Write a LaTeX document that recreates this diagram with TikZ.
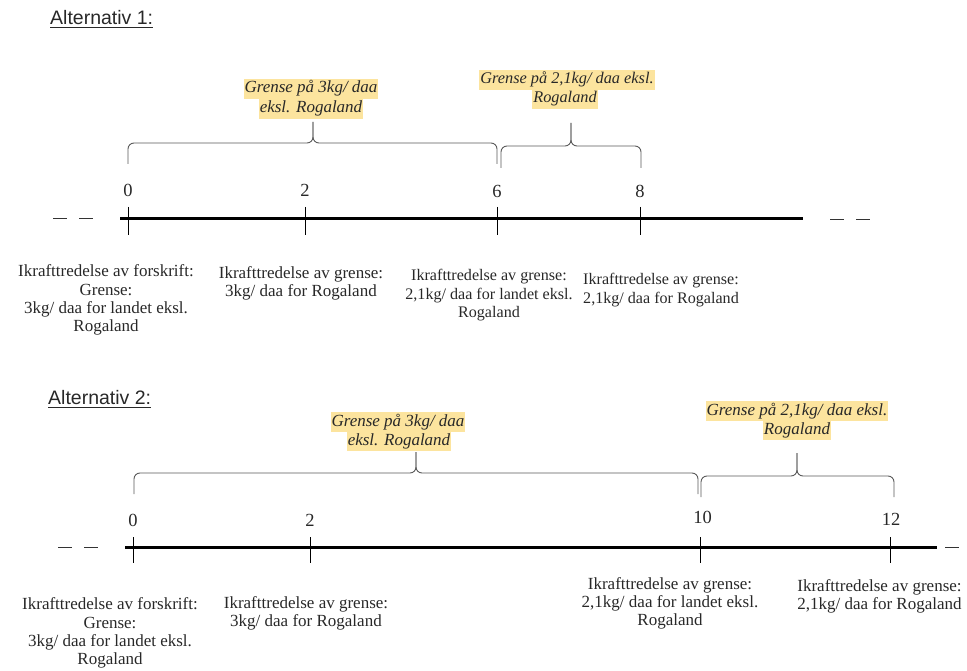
\documentclass[tikz,border=0pt]{standalone}
\usepackage{fontspec}
\setmainfont{Liberation Serif}
\newfontfamily\titlefont{Liberation Sans}
\definecolor{hlyellow}{RGB}{252,228,158}
\definecolor{txt}{RGB}{40,40,40}
\newcommand{\tlbrace}[6]{%
  \draw[brc] (#1,#4) -- (#1,#5) -- (#3,#5) -- (#3,#6);
  \draw[brc] (#2,#4) -- (#2,#5) -- (#3,#5) -- (#3,#6);
}
\begin{document}
\begin{tikzpicture}[x=1pt,y=-1pt,
  lbl/.style={font=\fontsize{17}{18.3}\selectfont, align=center, inner sep=0pt, text=txt},
  lblsmall/.style={lbl, font=\fontsize{16.1}{18.5}\selectfont},
  num/.style={font=\fontsize{18.5}{20}\selectfont, inner sep=0pt, text=txt},
  hl/.style={fill=hlyellow, font=\fontsize{17}{20}\selectfont\itshape, text=txt, inner xsep=1pt, inner ysep=1.5pt, text height=12.5pt, text depth=4.5pt},
  hlsmall/.style={hl, font=\fontsize{16.3}{20}\selectfont\itshape},
  ttl/.style={font=\titlefont\fontsize{19.5}{22}\selectfont, inner sep=0pt, anchor=base west, text=txt},
  axis/.style={line width=3pt, black},
  tickmark/.style={line width=0.9pt, black},
  brc/.style={line width=0.9pt, draw=black!65, rounded corners=6pt},
  dashes/.style={line width=1pt, black!80, dash pattern=on 14pt off 12pt},
  ulinestyle/.style={line width=1pt, txt}
]
\useasboundingbox (0,0) rectangle (967,671);

% ---------------- Alternativ 1 ----------------
\node[ttl] (t1) at (50,25) {Alternativ 1:};
\draw[ulinestyle] ([yshift=-3pt]t1.base west) -- ([yshift=-3pt]t1.base east);

\coordinate (a1s) at (120,218.5);
\coordinate (a1e) at (803,218.5);
\draw[axis] (a1s) -- (a1e);
\coordinate (d1a) at (53,218.5);
\coordinate (d1b) at (95,218.5);
\draw[dashes] (d1a) -- (d1b);
\coordinate (d1c) at (830,219.5);
\coordinate (d1d) at (872,219.5);
\draw[dashes] (d1c) -- (d1d);

\foreach \n/\x in {t10/128,t12/305,t16/497,t18/640}{
  \coordinate (\n) at (\x,218.5);
  \draw[tickmark] ([yshift=11.5pt]\n) -- ([yshift=-16.5pt]\n);
}
\node[num] (n10) at (128,190) {0};
\node[num] (n12) at (305,190) {2};
\node[num] (n16) at (497,191) {6};
\node[num] (n18) at (640,191) {8};

\tlbrace{128}{497}{313}{164}{143}{122}
\tlbrace{501}{641}{571}{168}{146}{123}

\node[hl] (h1a) at (311,89) {Grense på 3kg/ daa};
\node[hl] (h1b) at (311,109) {eksl. Rogaland};
\node[hlsmall] (h2a) at (567,80) {Grense på 2,1kg/ daa eksl.};
\node[hlsmall] (h2b) at (565,99) {Rogaland};

\node[lbl] (l1a) at (106,300) {Ikrafttredelse av forskrift:\\Grense:\\3kg/ daa for landet eksl.\\Rogaland};
\node[lbl] (l1b) at (301,283.5) {Ikrafttredelse av grense:\\3kg/ daa for Rogaland};
\node[lblsmall] (l1c) at (489,295.5) {Ikrafttredelse av grense:\\2,1kg/ daa for landet eksl.\\Rogaland};
\node[lblsmall] (l1d) at (661,290) {Ikrafttredelse av grense:\\2,1kg/ daa for Rogaland};

% ---------------- Alternativ 2 ----------------
\node[ttl] (t2) at (48,404) {Alternativ 2:};
\draw[ulinestyle] ([yshift=-3pt]t2.base west) -- ([yshift=-3pt]t2.base east);

\coordinate (a2s) at (125,547);
\coordinate (a2e) at (937,547);
\draw[axis] (a2s) -- (a2e);
\coordinate (d2a) at (58,547);
\coordinate (d2b) at (100,547);
\draw[dashes] (d2a) -- (d2b);
\coordinate (d2c) at (945,547);
\coordinate (d2d) at (975,547);
\draw[dashes] (d2c) -- (d2d);

\foreach \n/\x in {t20/133,t22/310,t30/700,t32/890}{
  \coordinate (\n) at (\x,547);
  \draw[tickmark] ([yshift=10pt]\n) -- ([yshift=-16pt]\n);
}
\node[num] (n20) at (133,520) {0};
\node[num] (n22) at (310,520) {2};
\node[num] (n30) at (702.5,517) {10};
\node[num] (n32) at (891,519) {12};

\tlbrace{134}{698}{416}{494}{473}{452}
\tlbrace{701}{894}{797}{497}{476}{453}

\node[hl] (h3a) at (398,422) {Grense på 3kg/ daa};
\node[hl] (h3b) at (399,441) {eksl. Rogaland};
\node[hl] (h4a) at (797,411) {Grense på 2,1kg/ daa eksl.};
\node[hl] (h4b) at (797,430) {Rogaland};

\node[lbl] (l2a) at (110,633) {Ikrafttredelse av forskrift:\\Grense:\\3kg/ daa for landet eksl.\\Rogaland};
\node[lbl] (l2b) at (306,613.5) {Ikrafttredelse av grense:\\3kg/ daa for Rogaland};
\node[lbl] (l2c) at (670,603.5) {Ikrafttredelse av grense:\\2,1kg/ daa for landet eksl.\\Rogaland};
\node[lbl] (l2d) at (879.5,596.5) {Ikrafttredelse av grense:\\2,1kg/ daa for Rogaland};
\end{tikzpicture}
\end{document}
